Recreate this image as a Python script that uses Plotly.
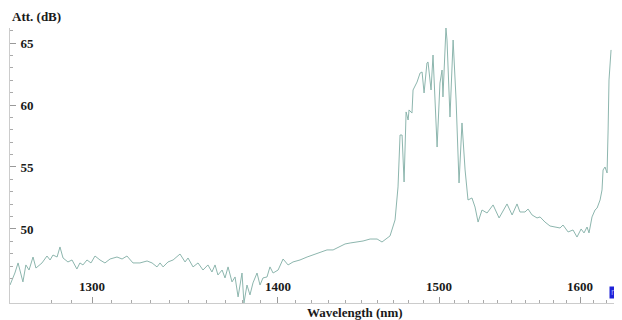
import plotly.graph_objects as go

wavelength_nm = [
    1260.3, 1262.6, 1264.1, 1266.4, 1267.8, 1269.3, 1271.2, 1272.6, 1275.5, 1277.9,
    1279.4, 1280.8, 1282.8, 1284.2, 1285.7, 1288.1, 1290.1, 1292.5, 1294.0, 1295.5,
    1297.5, 1299.5, 1301.5, 1304.0, 1306.5, 1309.1, 1312.6, 1315.2, 1317.7, 1320.8,
    1324.4, 1328.1, 1330.7, 1333.3, 1334.9, 1336.5, 1339.1, 1341.8, 1345.5, 1348.2,
    1349.8, 1352.5, 1355.2,
    1357.9, 1360.6, 1362.8, 1364.5, 1366.1, 1368.4, 1370.0, 1371.7, 1373.9, 1375.6,
    1377.3, 1379.5, 1380.6, 1382.3, 1384.0, 1385.7, 1388.0, 1389.7, 1391.4, 1393.7,
    1395.4, 1397.2, 1400.1, 1403.0, 1405.9, 1408.8, 1412.9, 1417.1, 1420.6, 1424.8,
    1429.0, 1432.7, 1436.9, 1440.0, 1443.1, 1447.4, 1451.1, 1455.5, 1459.9, 1463.0,
    1466.2, 1468.1,
    1471.3, 1473.2, 1474.5, 1475.8, 1477.1, 1478.4, 1479.7, 1480.3, 1482.2, 1482.9,
    1485.5, 1487.5, 1488.8, 1490.1, 1492.0, 1492.7, 1494.7, 1496.0, 1498.7, 1500.6,
    1502.0, 1502.6, 1504.6, 1505.3, 1507.3, 1509.4, 1511.4, 1513.4, 1515.4, 1517.5,
    1519.5,
    1522.2, 1524.3, 1526.4, 1529.1, 1532.6, 1536.8, 1541.0, 1546.6, 1550.2, 1553.7,
    1555.8, 1559.4, 1561.6, 1564.5, 1568.1, 1570.3, 1573.9, 1577.6, 1581.3, 1585.0,
    1587.2, 1591.0, 1594.7, 1597.7, 1600.8, 1603.0, 1605.3, 1606.8, 1609.1,
    1611.4, 1613.0, 1615.3, 1616.8, 1617.6, 1619.1, 1620.7, 1621.5, 1622.2, 1623.8,
]

attenuation_db = [
    45.48, 46.45, 47.26, 45.73, 47.10, 46.69, 47.74, 46.85, 47.26, 47.82,
    47.50, 47.90, 47.74, 48.55, 47.66, 47.34, 47.50, 46.77, 47.26, 47.10,
    47.50, 47.26, 47.82, 47.50, 47.26, 47.58, 47.74, 47.58, 47.82, 47.26,
    47.26, 47.42, 47.26, 46.94, 47.26, 46.94, 47.34, 47.50, 47.98, 47.34,
    47.66, 46.94, 47.26,
    46.69, 47.10, 46.53, 47.10, 46.29, 46.69, 46.05, 46.94, 45.73, 46.13,
    44.52, 46.45, 44.03, 45.48, 44.68, 45.65, 46.45, 45.48, 46.05, 46.13,
    46.94, 46.45, 46.69, 47.58, 47.10, 47.34, 47.50, 47.74, 47.90, 48.15,
    48.31, 48.31, 48.55, 48.79, 48.87, 48.95, 49.03, 49.19, 49.19, 48.95,
    49.27, 49.44,
    50.73, 53.39, 57.58, 57.58, 53.79, 59.44, 58.79, 59.60, 59.35, 61.21,
    61.85, 62.58, 62.66, 60.97, 63.39, 63.47, 61.21, 64.03, 56.61, 61.77,
    62.82, 60.65, 66.21, 65.24, 59.03, 65.24, 60.40, 53.71, 58.55, 54.76,
    52.34,
    52.50, 51.77, 50.56, 51.53, 51.29, 51.94, 50.89, 52.02, 51.13, 52.02,
    51.37, 51.37, 51.61, 51.13, 50.89, 50.97, 50.56, 50.24, 50.16, 50.08,
    50.32, 49.76, 49.92, 49.35, 50.00, 49.68, 50.16, 49.68, 50.97,
    51.53, 51.69, 52.34, 53.15, 54.76, 55.00, 54.52, 57.98, 62.02, 64.44,
]

x_major_nm = [1300, 1400, 1500, 1600]
x_minor_nm = list(range(1260, 1631, 10))
y_major_db = [50, 55, 60, 65]
x_range_nm = [1260.3, 1630.8]
y_range_db = [44.03, 66.21]


def to_wavenumber(nm):
    # the instrument axis is linear in optical frequency (1/wavelength)
    return 1e7 / nm


serif = "Liberation Serif"
W, H = 614, 312  # page adds an 8 px body margin on the top/left

fig = go.Figure()
fig.add_trace(go.Scatter(
    x=[to_wavenumber(v) for v in wavelength_nm],
    y=attenuation_db,
    mode="lines",
    line=dict(color="#8db6ae", width=1),
    hoverinfo="skip",
    showlegend=False,
))

fig.update_layout(
    width=W,
    height=H,
    margin=dict(l=2, r=2, t=20, b=17),
    paper_bgcolor="white",
    plot_bgcolor="white",
    showlegend=False,
)

fig.update_xaxes(
    range=[to_wavenumber(x_range_nm[0]), to_wavenumber(x_range_nm[1])],
    tickmode="array",
    tickvals=[to_wavenumber(v) for v in x_major_nm],
    ticktext=[str(v) for v in x_major_nm],
    ticks="inside",
    ticklen=6,
    tickcolor="#999999",
    ticklabelposition="inside",
    ticklabelstandoff=3,
    tickfont=dict(family=serif, size=13, color="#1a1a1a", weight="bold"),
    showline=True,
    linecolor="#cccccc",
    linewidth=1,
    showgrid=False,
    zeroline=False,
    minor=dict(
        tickmode="array",
        tickvals=[to_wavenumber(v) for v in x_minor_nm],
        ticks="inside",
        ticklen=3,
        tickcolor="#aaaaaa",
        showgrid=False,
    ),
)

fig.update_yaxes(
    range=y_range_db,
    tickmode="array",
    tickvals=y_major_db,
    ticktext=[str(v) for v in y_major_db],
    ticks="inside",
    ticklen=6,
    tickcolor="#999999",
    ticklabelposition="inside",
    ticklabelstandoff=4,
    tickfont=dict(family=serif, size=13, color="#1a1a1a", weight="bold"),
    showline=True,
    linecolor="#cccccc",
    linewidth=1,
    showgrid=False,
    zeroline=False,
    minor=dict(
        tickmode="linear",
        tick0=44,
        dtick=1,
        ticks="inside",
        ticklen=3,
        tickcolor="#aaaaaa",
        showgrid=False,
    ),
)

plot_w = W - 4
plot_h = H - 37
fig.add_annotation(
    text="Att. (dB)", xref="paper", yref="paper", x=0, y=1, yshift=12,
    xanchor="left", yanchor="middle", showarrow=False,
    font=dict(family=serif, size=13, color="#1a1a1a", weight="bold"),
)
fig.add_annotation(
    text="Wavelength (nm)", xref="paper", yref="paper",
    x=(355 - 10) / plot_w, y=0, yshift=-9,
    xanchor="center", yanchor="middle", showarrow=False,
    font=dict(family=serif, size=13, color="#1a1a1a", weight="bold"),
)
fig.add_annotation(
    text="nm", xref="paper", yref="paper",
    x=(609 - 10) / plot_w, y=11 / plot_h,
    xanchor="left", yanchor="middle", showarrow=False,
    bgcolor="#1f22d8", borderpad=1,
    font=dict(family="DejaVu Sans", size=8, color="#9fa8ff"),
)

fig.write_html("out.html")
